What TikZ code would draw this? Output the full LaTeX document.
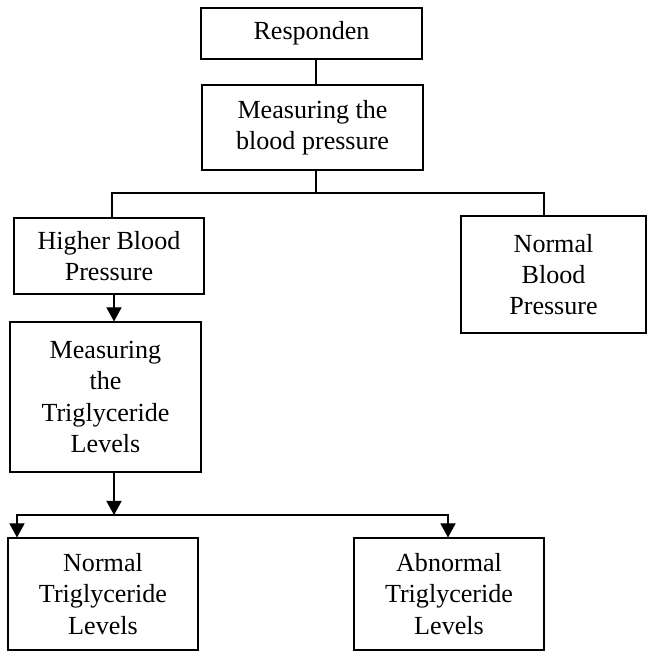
\documentclass[tikz,border=0pt]{standalone}
\usepackage{fontspec}
\setmainfont{Liberation Serif}
\usetikzlibrary{arrows.meta}

\begin{document}
\begin{tikzpicture}[x=0.46pt, y=-0.46pt,
  box/.style={draw, line width=0.5pt, align=center, inner sep=0pt,
    font=\fontsize{12}{14.3}\selectfont},
  link/.style={line width=0.5pt},
  >={Triangle[width=7pt,length=6.5pt]}]
  \useasboundingbox (0,0) rectangle (647,652);

  \foreach \name/\x/\y/\w/\h/\txt in {
    resp/311.5/33.5/221/51/{Responden},
    mbp/312.5/127.5/221/85/{Measuring the\\blood pressure},
    hbp/109/256/190/76/{Higher Blood\\Pressure},
    nbp/553.5/274.5/185/117/{Normal\\Blood\\Pressure},
    mtl/105.5/397/191/150/{Measuring\\the\\Triglyceride\\Levels},
    ntl/103/594/190/112/{Normal\\Triglyceride\\Levels},
    atl/449/594/190/112/{Abnormal\\Triglyceride\\Levels}}{
    \node[box, minimum width=\w*0.46pt, minimum height=\h*0.46pt]
      (\name) at (\x,\y) {\txt};
  }

  \coordinate (jM) at (316,193);
  \coordinate (jL) at (112,193);
  \coordinate (jR) at (544,193);
  \coordinate (kL) at (17,515);
  \coordinate (kM) at (114,515);
  \coordinate (kR) at (448,515);

  \draw[link] (jM |- resp.south) -- (jM |- mbp.north);
  \draw[link] (jM |- mbp.south) -- (jM);
  \draw[link] (jL |- hbp.north) -- (jL) -- (jR) -- (jR |- nbp.north);

  \draw[link, ->] (kM |- hbp.south) -- (kM |- mtl.north);
  \draw[link, ->] (kM |- mtl.south) -- (kM);
  \draw[link, <->] (kL |- ntl.north) -- (kL) -- (kR) -- (kR |- atl.north);
\end{tikzpicture}
\end{document}
